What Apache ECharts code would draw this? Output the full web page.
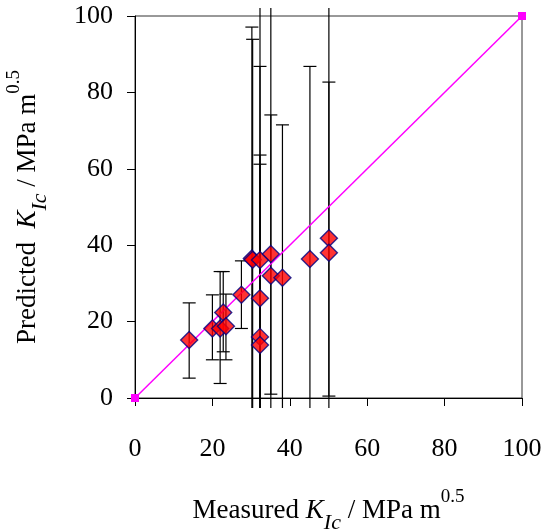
<!DOCTYPE html>
<html>
<head>
<meta charset="utf-8">
<script src="https://cdn.jsdelivr.net/npm/echarts@6/dist/echarts.min.js"></script>
<style>html,body{margin:0;padding:0;background:#fff;}#c{width:546px;height:529px;}</style>
</head>
<body>
<div id="c"></div>
<script>
// Measured KIc (x), predicted KIc (y), and error-bar limits
var measured  = [14, 20, 22, 22.8, 23.5, 27.5, 30.2, 30.4, 32.3, 32.3, 32.3, 32.3, 35.1, 35.1, 38.1, 45.2, 50.1, 50.1];
var predicted = [15.2, 18.2, 18.2, 22.4, 18.8, 27, 36.5, 36.2, 36.1, 26.1, 16, 13.9, 37.7, 32, 31.5, 36.4, 41.8, 38];
var errLow    = [5.2, 10, 3.8, 12.1, 10, 18.2, -40, -40, -40, -40, -40, -40, -40, 1.0, -40, -40, -40, 0.5];
var errHigh   = [24.9, 27, 33.1, 33.1, 27.2, 35.9, 97.1, 93.9, 140, 86.8, 63.6, 61.2, 140, 74.1, 71.5, 86.8, 140, 82.7];
var parityLine = [[0, 0], [100, 100]];

var errData = measured.map(function (x, i) { return [x, errLow[i], errHigh[i]]; });
var ptData = measured.map(function (x, i) { return [x, predicted[i]]; });

var FONT = '"Liberation Serif", "Times New Roman", serif';
var titleRich = {
  n: { fontFamily: FONT, fontSize: 27, color: '#000', lineHeight: 40, verticalAlign: 'middle' },
  k: { fontFamily: FONT, fontSize: 27, fontStyle: 'italic', color: '#000', lineHeight: 40, verticalAlign: 'middle' },
  s: { fontFamily: FONT, fontSize: 22, fontStyle: 'italic', color: '#000', lineHeight: 37, verticalAlign: 'bottom' },
  p: { fontFamily: FONT, fontSize: 19, color: '#000', lineHeight: 46, verticalAlign: 'top' }
};

var chart = echarts.init(document.getElementById('c'), null, { renderer: 'canvas' });
chart.setOption({
  animation: false,
  backgroundColor: '#fff',
  grid: { left: 135, right: 24, top: 16, bottom: 131, outerBoundsMode: 'none', containLabel: false,
    show: true, borderColor: '#333', borderWidth: 1, backgroundColor: 'transparent' },
  xAxis: {
    type: 'value', min: 0, max: 100, interval: 20,
    axisLine: { show: true, lineStyle: { color: '#000', width: 1 } },
    axisTick: { show: true, length: 8, lineStyle: { color: '#000' } },
    splitLine: { show: false },
    axisLabel: { fontFamily: FONT, fontSize: 26, color: '#000', margin: 38 },
    name: '{n|Measured }{k|K}{s|Ic}{n| / MPa m}{p|0.5}',
    nameLocation: 'middle', nameGap: 90,
    nameTextStyle: { rich: titleRich }
  },
  yAxis: {
    type: 'value', min: 0, max: 100, interval: 20,
    axisLine: { show: true, lineStyle: { color: '#000', width: 1 } },
    axisTick: { show: true, length: 8, lineStyle: { color: '#000' } },
    splitLine: { show: false },
    axisLabel: { fontFamily: FONT, fontSize: 26, color: '#000', margin: 22, verticalAlign: 'middle', padding: [8, 0, 0, 0] },
    name: '{n|Predicted  }{k|K}{s|Ic}{n| / MPa m}{p|0.5}',
    nameLocation: 'middle', nameGap: 84, nameRotate: 90,
    nameTextStyle: { rich: titleRich }
  },
  series: [
    {
      type: 'custom',
      clip: false,
      z: 2,
      data: errData,
      renderItem: function (params, api) {
        var cs = params.coordSys;
        var yTop = cs.y - 8, yBot = cs.y + cs.height + 10;
        var x = api.value(0);
        var pLo = api.coord([x, api.value(1)]);
        var pHi = api.coord([x, api.value(2)]);
        var px = pLo[0];
        var yl = Math.min(pLo[1], yBot), yh = Math.max(pHi[1], yTop);
        var st = { stroke: '#000', lineWidth: 1.2 };
        var ch = [{ type: 'line', shape: { x1: px, y1: yl, x2: px, y2: yh }, style: st }];
        var cap = 6.5;
        if (pLo[1] <= yBot) ch.push({ type: 'line', shape: { x1: px - cap, y1: pLo[1], x2: px + cap, y2: pLo[1] }, style: st });
        if (pHi[1] >= yTop) ch.push({ type: 'line', shape: { x1: px - cap, y1: pHi[1], x2: px + cap, y2: pHi[1] }, style: st });
        return { type: 'group', children: ch };
      }
    },
    {
      type: 'line',
      data: parityLine,
      clip: false,
      z: 3,
      symbol: 'rect',
      symbolSize: 8,
      showSymbol: true,
      lineStyle: { color: '#FF00FF', width: 1.5 },
      itemStyle: { color: '#FF00FF' }
    },
    {
      type: 'scatter',
      data: ptData,
      z: 4,
      symbol: 'diamond',
      symbolSize: [17, 17],
      itemStyle: { color: '#FF0000', borderColor: '#000080', borderWidth: 1.4 }
    }
  ]
});
</script>
</body>
</html>
